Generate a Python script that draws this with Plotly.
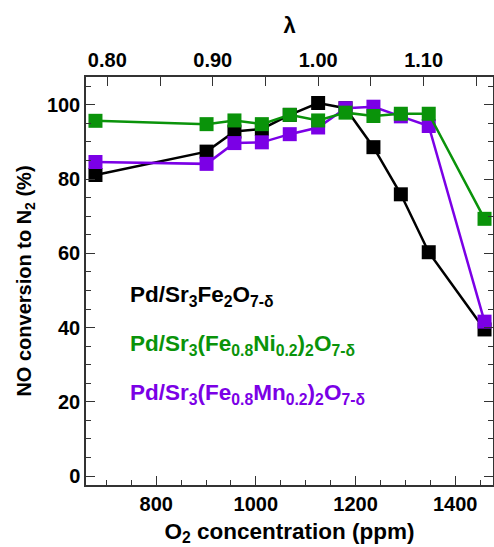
import plotly.graph_objects as go

# ---- data ----
o2_ppm = [678, 901, 957, 1012, 1068, 1125, 1180, 1236, 1291, 1347, 1459]
pd_sr3fe2o7 = [81.1, 87.4, 92.8, 93.5, 97.3, 100.5, 99.1, 88.6, 75.9, 60.3, 39.5]
pd_ni = [95.7, 94.8, 95.8, 94.8, 97.3, 95.8, 97.9, 97.0, 97.6, 97.6, 69.3]
pd_mn = [84.6, 84.1, 89.7, 89.9, 92.1, 93.9, 99.1, 99.5, 96.9, 94.3, 41.6]
lambda_ticks = [0.80, 0.90, 1.00, 1.10]

series_names = [
    "Pd/Sr<sub>3</sub>Fe<sub>2</sub>O<sub>7-δ</sub>",
    "Pd/Sr<sub>3</sub>(Fe<sub>0.8</sub>Ni<sub>0.2</sub>)<sub>2</sub>O<sub>7-δ</sub>",
    "Pd/Sr<sub>3</sub>(Fe<sub>0.8</sub>Mn<sub>0.2</sub>)<sub>2</sub>O<sub>7-δ</sub>",
]
colors = ["#000000", "#0a930a", "#7b00e6"]

FONT = "Liberation Sans, Arial, sans-serif"

fig = go.Figure()
order = [(pd_sr3fe2o7, 0), (pd_mn, 2), (pd_ni, 1)]
for vals, i in order:
    fig.add_trace(go.Scatter(
        x=o2_ppm, y=vals, mode="lines+markers", name=series_names[i],
        line=dict(color=colors[i], width=2.5),
        marker=dict(symbol="square", size=14, color=colors[i]),
        showlegend=False, cliponaxis=False,
    ))

# invisible trace to anchor the top λ axis
fig.add_trace(go.Scatter(x=lambda_ticks, y=[50] * len(lambda_ticks), xaxis="x2",
                         mode="markers", marker=dict(opacity=0, size=1),
                         hoverinfo="skip", showlegend=False))

axis_common = dict(
    showline=True, linecolor="#333333", linewidth=1.5,
    ticks="inside", ticklen=9, tickwidth=1.2, tickcolor="#333333",
    showgrid=False, zeroline=False, automargin=False,
    tickfont=dict(family=FONT, size=20, color="#000000", weight="bold"),
)

fig.update_layout(
    width=494, height=547,
    margin=dict(l=86, r=1, t=77, b=62),
    plot_bgcolor="white", paper_bgcolor="white",
    font=dict(family=FONT, color="#000000"),
    xaxis=dict(
        range=[659, 1476], dtick=200, tick0=800,
        minor=dict(dtick=50, tick0=800, ticks="inside", ticklen=5, tickcolor="#333333"),
        title=dict(text="O<sub>2</sub> concentration (ppm)",
                   font=dict(family=FONT, size=22.5, weight="bold"), standoff=9),
        **axis_common,
    ),
    xaxis2=dict(
        overlaying="x", side="top", anchor="y",
        range=[0.7798, 1.1658], tickvals=lambda_ticks, tickformat=".2f",
        minor=dict(dtick=0.05, tick0=0.8, ticks="inside", ticklen=9, tickcolor="#333333"),
        title=dict(text="λ", font=dict(family=FONT, size=22, weight="bold"), standoff=10),
        **axis_common,
    ),
    yaxis=dict(
        range=[-2.4, 107.5], dtick=20, tick0=0, mirror="ticks",
        minor=dict(dtick=5, tick0=0, ticks="inside", ticklen=5, tickcolor="#333333"),
        title=dict(text="NO conversion to N<sub>2</sub> (%)",
                   font=dict(family=FONT, size=20, weight="bold"), standoff=10),
        **axis_common,
    ),
)

label_y = [296, 345, 394]
for i, yy in enumerate(label_y):
    fig.add_annotation(
        text=series_names[i], xref="paper", yref="paper",
        x=(128 - 86) / (492.7 - 86), y=1 - (yy - 77) / (485 - 77),
        xanchor="left", yanchor="middle", showarrow=False,
        font=dict(family=FONT, size=22.5, color=colors[i], weight="bold"),
    )

fig.write_html(
    "out.html",
    config={"displayModeBar": False},
    post_script="document.body.style.margin='0';document.body.style.overflow='hidden';",
)
